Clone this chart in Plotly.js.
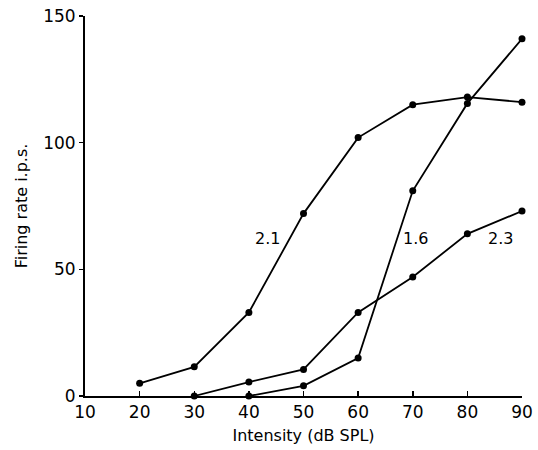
<!DOCTYPE html>
<html>
<head>
<meta charset="utf-8">
<script src="https://cdn.plot.ly/plotly-3.0.1.min.js"></script>
<style>
  html, body { margin: 0; padding: 0; background: #fff; }
  #chart { width: 538px; height: 450px; }
</style>
</head>
<body>
<div id="chart"></div>
<script>
// Sound intensity (dB SPL) and firing rate (impulses per second) for three units
const intensity21 = [20, 30, 40, 50, 60, 70, 80, 90];
const rate21      = [5, 11.5, 33, 72, 102, 115, 118, 116];

const intensity16 = [40, 50, 60, 70, 80, 90];
const rate16      = [0, 4, 15, 81, 115.5, 141];

const intensity23 = [30, 40, 50, 60, 70, 80, 90];
const rate23      = [0, 5.5, 10.5, 33, 47, 64, 73];

const curveLabels = ['2.1', '1.6', '2.3'];
const labelX = [43.5, 70.5, 86];
const labelY = [62, 62, 62];

const xTicks = [10, 20, 30, 40, 50, 60, 70, 80, 90];
const yTicks = [0, 50, 100, 150];

const FONT = 'DejaVu Sans, sans-serif';

function series(x, y) {
  return {
    x: x, y: y,
    type: 'scatter',
    mode: 'lines+markers',
    line: { color: '#000', width: 1.8 },
    marker: { color: '#000', size: 7 },
    cliponaxis: false,
    hoverinfo: 'x+y'
  };
}

const data = [
  series(intensity21, rate21),
  series(intensity16, rate16),
  series(intensity23, rate23)
];

const annotations = curveLabels.map((t, i) => ({
  x: labelX[i], y: labelY[i], xref: 'x', yref: 'y',
  text: t, showarrow: false,
  font: { family: FONT, size: 16, color: '#000' }
}));

const layout = {
  width: 538, height: 450,
  margin: { l: 85, r: 16, t: 16, b: 54 },
  paper_bgcolor: '#fff', plot_bgcolor: '#fff',
  showlegend: false,
  font: { family: FONT, color: '#000' },
  xaxis: {
    range: [10, 90],
    tickvals: xTicks,
    ticks: 'inside', ticklen: 5, tickwidth: 1.5, tickcolor: '#000',
    showline: true, linecolor: '#000', linewidth: 2,
    showgrid: false, zeroline: false,
    tickfont: { family: FONT, size: 17, color: '#000' },
    title: { text: 'Intensity (dB SPL)', font: { family: FONT, size: 16, color: '#000' }, standoff: 8 }
  },
  yaxis: {
    range: [0, 150],
    tickvals: yTicks,
    ticks: 'outside', ticklen: 4, tickwidth: 1.5, tickcolor: '#000',
    showline: true, linecolor: '#000', linewidth: 2,
    showgrid: false, zeroline: false,
    tickfont: { family: FONT, size: 17, color: '#000' },
    title: { text: 'Firing rate i.p.s.', font: { family: FONT, size: 16, color: '#000' }, standoff: 12 }
  },
  annotations: annotations
};

Plotly.newPlot('chart', data, layout, { displayModeBar: false, staticPlot: true });
</script>
</body>
</html>
